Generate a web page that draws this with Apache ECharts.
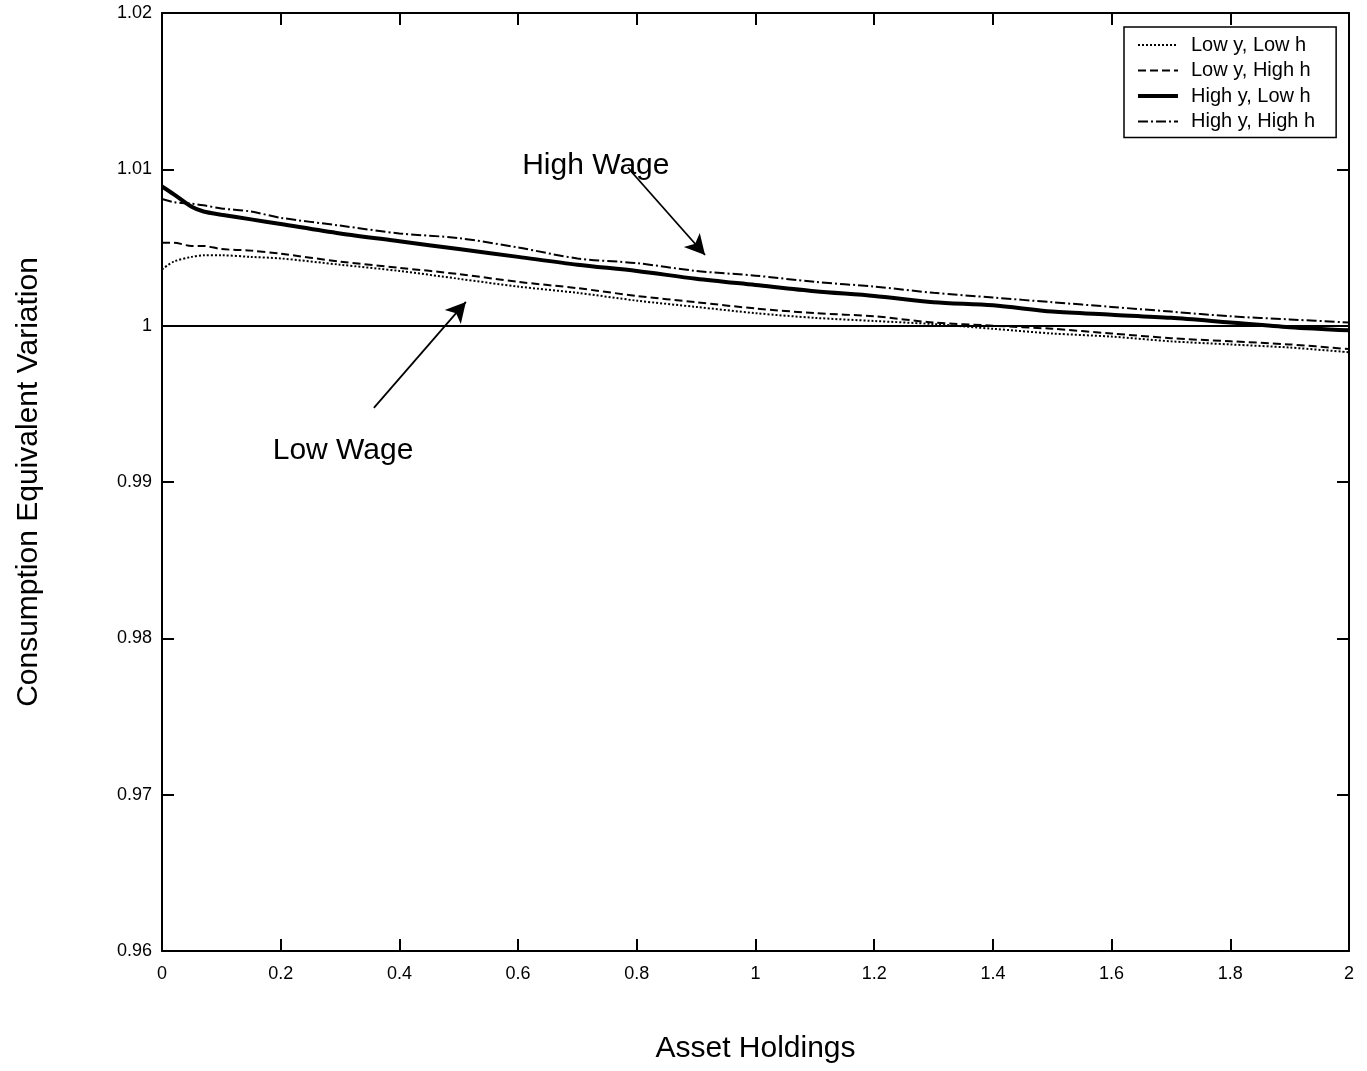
<!DOCTYPE html>
<html>
<head>
<meta charset="utf-8">
<script src="https://cdn.jsdelivr.net/npm/echarts@6/dist/echarts.min.js"></script>
<style>
  html, body { margin: 0; padding: 0; background: #fff; }
  #chart { width: 1367px; height: 1071px; }
</style>
</head>
<body>
<div id="chart"></div>
<script>
// Asset grid (x values)
const assets = [0, 0.02, 0.05, 0.07, 0.1, 0.15, 0.2, 0.3, 0.4, 0.5, 0.6, 0.7, 0.8, 0.9,
                1.0, 1.1, 1.2, 1.3, 1.4, 1.5, 1.6, 1.7, 1.8, 1.9, 2.0];

// Consumption equivalent variation by type
const lowYLowH = [1.0036, 1.0041, 1.0044, 1.0045, 1.0045, 1.0044, 1.0043, 1.0039, 1.0035, 1.0030,
                  1.0025, 1.0021, 1.0016, 1.0012, 1.0008, 1.0005, 1.0003, 1.0001, 0.9998, 0.9995,
                  0.9993, 0.9990, 0.9988, 0.9986, 0.9983];
const lowYHighH = [1.0053, 1.0053, 1.0051, 1.0051, 1.0049, 1.0048, 1.0046, 1.0041, 1.0037, 1.0033,
                   1.0028, 1.0024, 1.0019, 1.0015, 1.0011, 1.0008, 1.0006, 1.0002, 1.0000, 0.9998,
                   0.9995, 0.9992, 0.9990, 0.9988, 0.9985];
const highYLowH = [1.0089, 1.0084, 1.0076, 1.0073, 1.0071, 1.0068, 1.0065, 1.0059, 1.0054, 1.0049,
                   1.0044, 1.0039, 1.0035, 1.0030, 1.0026, 1.0022, 1.0019, 1.0015, 1.0013, 1.0009,
                   1.0007, 1.0005, 1.0002, 0.9999, 0.9997];
const highYHighH = [1.0081, 1.0079, 1.0078, 1.0077, 1.0075, 1.0073, 1.0069, 1.0064, 1.0059, 1.0056,
                    1.0050, 1.0043, 1.0040, 1.0035, 1.0032, 1.0028, 1.0025, 1.0021, 1.0018, 1.0015,
                    1.0012, 1.0009, 1.0006, 1.0004, 1.0002];

const seriesNames = ['Low y, Low h', 'Low y, High h', 'High y, Low h', 'High y, High h'];

// Annotation anchors (data coordinates)
const highWageLabel = [0.731, 1.0102];
const highWageArrow = [[0.785, 1.0101], [0.915, 1.00452]];
const lowWageLabel = [0.305, 0.99199];
const lowWageArrow = [[0.357, 0.99474], [0.512, 1.00152]];

const FONT = 'Liberation Sans, Arial, sans-serif';

// Line styles shared by each series and its legend entry
const styles = [
  { color: '#000', width: 2, type: [2, 2] },
  { color: '#000', width: 2, type: [8, 4] },
  { color: '#000', width: 4, type: 'solid' },
  { color: '#000', width: 2, type: [10, 3, 2, 3] }
];

function pairs(ys) { return assets.map((x, i) => [x, ys[i]]); }

function axisBase() {
  return {
    type: 'value',
    axisLine: { show: true, onZero: false, lineStyle: { color: '#000', width: 2 } },
    axisTick: { show: true, inside: true, length: 12, lineStyle: { color: '#000', width: 2 } },
    splitLine: { show: false }
  };
}

const chart = echarts.init(document.getElementById('chart'), null, { renderer: 'canvas' });

chart.setOption({
  animation: false,
  backgroundColor: '#fff',
  textStyle: { fontFamily: FONT, color: '#000' },
  grid: { left: 162, right: 18, top: 13, bottom: 120, containLabel: false },
  legend: {
    data: seriesNames.map((n, i) => ({ name: n, lineStyle: styles[i] })),
    orient: 'vertical',
    left: 1124,
    top: 27,
    itemWidth: 40,
    itemHeight: 14,
    itemGap: 5.5,
    padding: [8, 21, 6, 12],
    borderColor: '#000',
    borderWidth: 1.5,
    backgroundColor: '#fff',
    itemStyle: { color: 'rgba(0,0,0,0)', borderColor: 'rgba(0,0,0,0)', borderWidth: 0, opacity: 0 },
    textStyle: { fontFamily: FONT, fontSize: 20, lineHeight: 20, color: '#000', padding: [0, 0, 0, 8] }
  },
  xAxis: [
    Object.assign(axisBase(), {
      position: 'bottom', min: 0, max: 2, interval: 0.2,
      axisLabel: { color: '#000', fontSize: 18, fontFamily: FONT, margin: 14 },
      name: 'Asset Holdings', nameLocation: 'middle', nameGap: 83,
      nameTextStyle: { fontSize: 30, fontFamily: FONT, color: '#000' }
    }),
    Object.assign(axisBase(), {
      position: 'top', min: 0, max: 2, interval: 0.2,
      axisLabel: { show: false }
    })
  ],
  yAxis: [
    Object.assign(axisBase(), {
      position: 'left', min: 0.96, max: 1.02, interval: 0.01,
      axisLabel: { color: '#000', fontSize: 18, fontFamily: FONT, margin: 10 },
      name: 'Consumption Equivalent Variation', nameLocation: 'middle', nameGap: 118,
      nameRotate: 90,
      nameTextStyle: { fontSize: 30, fontFamily: FONT, color: '#000' }
    }),
    Object.assign(axisBase(), {
      position: 'right', min: 0.96, max: 1.02, interval: 0.01,
      axisLabel: { show: false }
    })
  ],
  series: [
    {
      name: seriesNames[0], type: 'line', data: pairs(lowYLowH), symbol: 'none', smooth: 0.3,
      color: '#000', lineStyle: styles[0],
      markLine: {
        silent: true,
        symbol: 'none',
        label: { show: false },
        data: [
          { yAxis: 1, lineStyle: { color: '#000', width: 1.8, type: 'solid' } }
        ]
      }
    },
    {
      name: seriesNames[1], type: 'line', data: pairs(lowYHighH), symbol: 'none', smooth: 0.3,
      color: '#000', lineStyle: styles[1]
    },
    {
      name: seriesNames[2], type: 'line', data: pairs(highYLowH), symbol: 'none', smooth: 0.3,
      color: '#000', lineStyle: styles[2]
    },
    {
      name: seriesNames[3], type: 'line', data: pairs(highYHighH), symbol: 'none', smooth: 0.3,
      color: '#000', lineStyle: styles[3]
    },
    {
      // Arrows and text callouts
      name: 'callouts', type: 'line', data: [], silent: true,
      markLine: {
        silent: true,
        symbolSize: [16, 20],
        label: { show: false },
        lineStyle: { color: '#000', width: 1.8, type: 'solid' },
        data: [
          [{ coord: highWageArrow[0], symbol: 'none' }, { coord: highWageArrow[1], symbol: 'arrow' }],
          [{ coord: lowWageArrow[0], symbol: 'none' }, { coord: lowWageArrow[1], symbol: 'arrow' }]
        ]
      },
      markPoint: {
        silent: true,
        symbol: 'circle',
        symbolSize: 0,
        label: { show: true, position: 'inside', color: '#000', fontSize: 30, fontFamily: FONT },
        data: [
          { coord: highWageLabel, label: { formatter: 'High Wage' } },
          { coord: lowWageLabel, label: { formatter: 'Low Wage' } }
        ]
      }
    }
  ]
});
</script>
</body>
</html>
